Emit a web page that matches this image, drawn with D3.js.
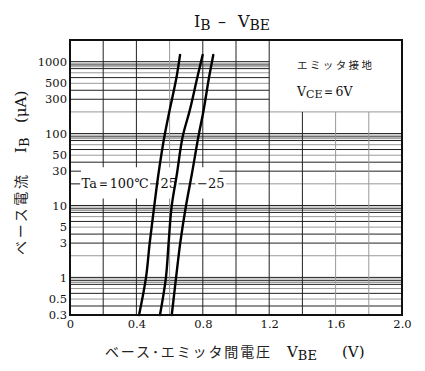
<!DOCTYPE html>
<html>
<head>
<meta charset="utf-8">
<script src="https://cdn.jsdelivr.net/npm/d3@7"></script>
<style>
    body { margin: 0; background: #fff; }
    svg { display: block; }
    .serif { font-family: "DejaVu Serif", "Liberation Serif", serif; fill: #111; }
    .jp { font-family: "Noto Sans CJK JP", sans-serif; fill: #222; }
</style>
</head>
<body>
<svg id="chartSVG" width="425" height="371"></svg>
<script>
//////////////////// DATA ////////////////////
// axis ticks
const voltageTicks = [0, 0.4, 0.8, 1.2, 1.6, 2.0];
const voltageGrid = [0.2, 0.4, 0.6, 0.8, 1.0, 1.2, 1.4, 1.6, 1.8];
const voltageGridLight = [0.6, 1.6, 1.8];
const currentTicks = [1000, 500, 300, 100, 50, 30, 10, 5, 3, 1, 0.5, 0.3];
const currentTickLabels = ["1000", "500", "300", "100", "50", "30", "10", "5", "3", "1", "0.5", "0.3"];

// log grid inside each decade (dark / light lines)
const decades = [0.1, 1, 10, 100, 1000];
const gridDark = [1, 0.9, 0.8, 0.6, 0.4, 0.3];
const gridLight = [0.95, 0.85, 0.7, 0.5, 0.2];

// curves (IB in uA, VBE in V)
const curveCurrents = [0.3, 1, 3, 10, 26.5, 100, 200, 630, 1240];
const vbe100 = [0.416, 0.458, 0.480, 0.508, 0.532, 0.572, 0.598, 0.643, 0.663];
const vbe25 = [0.542, 0.578, 0.594, 0.613, 0.643, 0.683, 0.719, 0.769, 0.799];
const vbeMinus25 = [0.613, 0.639, 0.664, 0.699, 0.733, 0.777, 0.803, 0.839, 0.863];

// temperature labels
const tempLabels = ["Ta＝100℃", "25", "−25"];
const tempLabelVolts = [0.07, 0.545, 0.765];


//////////////////// HANDLE SIZES ////////////////////
const plot = { left: 70, right: 402, top: 40, bottom: 315 };

const chartSVG = d3.select("#chartSVG");

const scaleX = d3.scaleLinear()
    .domain([0, 2.0])
    .range([plot.left, plot.right]);

const scaleY = d3.scaleLog()
    .domain([0.3, 2000])
    .range([plot.bottom, plot.top]);


//////////////////// GRID ////////////////////
const hGrid = [];
decades.forEach(dec => {
    gridDark.forEach(m => hGrid.push({ v: m * dec * 10, light: false }));
    gridLight.forEach(m => hGrid.push({ v: m * dec * 10, light: true }));
});
const hGridIn = hGrid.filter(d => d.v >= 0.3 && d.v <= 2000);

// legend box corner (grid is hidden above 200 uA, right of 1.2 V)
const boxX = scaleX(1.2);
const boxY = scaleY(200);

chartSVG.append("g")
    .selectAll("line")
    .data(hGridIn)
    .enter()
    .append("line")
    .attr("x1", plot.left)
    .attr("x2", d => d.v > 200.5 ? boxX : plot.right)
    .attr("y1", d => scaleY(d.v))
    .attr("y2", d => scaleY(d.v))
    .attr("stroke", d => d.light ? "#999" : "#222")
    .attr("stroke-width", 1);

chartSVG.append("g")
    .selectAll("line")
    .data(voltageGrid)
    .enter()
    .append("line")
    .attr("x1", d => scaleX(d))
    .attr("x2", d => scaleX(d))
    .attr("y1", d => d > 1.2 ? boxY : plot.top)
    .attr("y2", plot.bottom)
    .attr("stroke", d => voltageGridLight.includes(d) ? "#999" : "#222")
    .attr("stroke-width", 1);


//////////////////// TEMPERATURE LABEL ROW ////////////////////
const labelY = scaleY(20);

chartSVG.append("rect")
    .attr("x", plot.left + 11)
    .attr("y", scaleY(34))
    .attr("width", scaleX(0.9) - plot.left - 11)
    .attr("height", scaleY(12.5) - scaleY(34))
    .attr("fill", "#fff");

chartSVG.append("line")
    .attr("x1", plot.left)
    .attr("x2", scaleX(0.9))
    .attr("y1", labelY)
    .attr("y2", labelY)
    .attr("stroke", "#444");

const labelGroup = chartSVG.append("g");
tempLabels.forEach((t, i) => {
    const txt = labelGroup.append("text")
        .attr("class", "serif")
        .attr("x", scaleX(tempLabelVolts[i]))
        .attr("y", labelY + 4.5)
        .style("font-size", "13px")
        .text(t);
    if (i == 0) txt.attr("textLength", 67).attr("lengthAdjust", "spacingAndGlyphs");
    const bb = txt.node().getBBox();
    labelGroup.insert("rect", "text")
        .attr("x", bb.x - 1.5)
        .attr("y", bb.y)
        .attr("width", bb.width + 3)
        .attr("height", bb.height)
        .attr("fill", "#fff");
});


//////////////////// CURVES ////////////////////
const curveLine = d3.line()
    .x(d => scaleX(d[0]))
    .y(d => scaleY(d[1]))
    .curve(d3.curveMonotoneY);

[vbe100, vbe25, vbeMinus25].forEach(series => {
    // points ordered top -> bottom on screen
    const pts = series.map((v, i) => [v, curveCurrents[i]]).reverse();
    chartSVG.append("path")
        .datum(pts)
        .attr("d", curveLine)
        .attr("fill", "none")
        .attr("stroke", "#000")
        .attr("stroke-width", 2.4)
        .attr("stroke-linecap", "round");
});


//////////////////// FRAME ////////////////////
chartSVG.append("rect")
    .attr("x", plot.left)
    .attr("y", plot.top)
    .attr("width", plot.right - plot.left)
    .attr("height", plot.bottom - plot.top)
    .attr("fill", "none")
    .attr("stroke", "#111")
    .attr("stroke-width", 2);


//////////////////// AXES ////////////////////
const axisX = d3.axisBottom(scaleX)
    .tickValues(voltageTicks)
    .tickSize(0)
    .tickPadding(5)
    .tickFormat(d => d == 0 ? "0" : d3.format(".1f")(d));

const gx = chartSVG.append("g")
    .attr("transform", `translate(0,${plot.bottom})`)
    .call(axisX);
gx.select(".domain").remove();
gx.selectAll("text")
    .attr("class", "serif")
    .style("font-size", "11.5px");

const axisY = d3.axisLeft(scaleY)
    .tickValues(currentTicks)
    .tickSize(0)
    .tickPadding(3)
    .tickFormat((d, i) => currentTickLabels[i]);

const gy = chartSVG.append("g")
    .attr("transform", `translate(${plot.left},0)`)
    .call(axisY);
gy.select(".domain").remove();
gy.selectAll("text")
    .attr("class", "serif")
    .style("font-size", "11.5px");


//////////////////// TITLES ////////////////////
const title = chartSVG.append("text")
    .attr("class", "serif")
    .attr("x", 194)
    .attr("y", 27)
    .style("font-size", "16px");
title.append("tspan").text("I");
title.append("tspan").attr("dy", 3).style("font-size", "14px").text("B");
title.append("tspan").attr("dy", -3).attr("x", 218).text("–");
title.append("tspan").attr("x", 238).text("V");
title.append("tspan").attr("dy", 3).style("font-size", "14px").text("BE");

// legend box
chartSVG.append("text")
    .attr("class", "jp")
    .attr("x", 297)
    .attr("y", 69)
    .attr("textLength", 75)
    .style("font-size", "10.5px")
    .text("エミッタ接地");

const vce = chartSVG.append("text")
    .attr("class", "serif")
    .attr("x", 297)
    .attr("y", 96)
    .style("font-size", "12.5px");
vce.append("tspan").text("V");
vce.append("tspan").attr("dy", 2).style("font-size", "11px").text("CE");
vce.append("tspan").attr("dy", -2).text("＝6V");

// x axis title
chartSVG.append("text")
    .attr("class", "jp")
    .attr("x", 105)
    .attr("y", 357)
    .attr("textLength", 165)
    .style("font-size", "14px")
    .text("ベース･エミッタ間電圧");

const xTitle = chartSVG.append("text")
    .attr("class", "serif")
    .attr("x", 287)
    .attr("y", 357)
    .style("font-size", "15px");
xTitle.append("tspan").text("V");
xTitle.append("tspan").attr("dy", 3).style("font-size", "13px").text("BE");
xTitle.append("tspan").attr("dy", -3).attr("x", 342).text("(V)");

// y axis title
const yTitle = chartSVG.append("g")
    .attr("transform", "translate(26,0) rotate(-90)");
yTitle.append("text")
    .attr("class", "jp")
    .attr("x", -255)
    .attr("y", 0)
    .attr("textLength", 80)
    .style("font-size", "14px")
    .text("ベース電流");
const yIb = yTitle.append("text")
    .attr("class", "serif")
    .attr("x", -153)
    .attr("y", 0)
    .style("font-size", "15px");
yIb.append("tspan").text("I");
yIb.append("tspan").attr("dy", 3).style("font-size", "13px").text("B");
yTitle.append("text")
    .attr("class", "serif")
    .attr("x", -123)
    .attr("y", 0)
    .style("font-size", "15px")
    .text("(μA)");
</script>
</body>
</html>
